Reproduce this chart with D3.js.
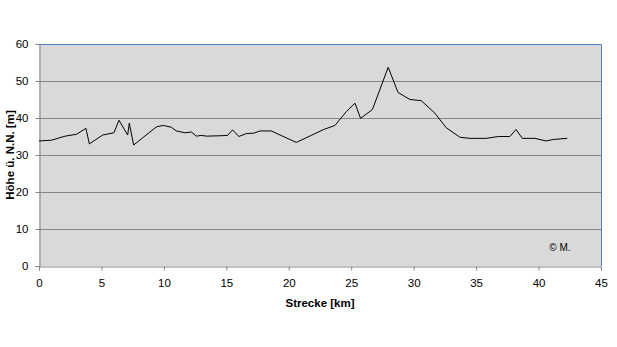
<!DOCTYPE html>
<html>
<head>
<meta charset="utf-8">
<script src="https://cdn.jsdelivr.net/npm/d3@7"></script>
<style>
  body { margin: 0; background: #fff; }
  svg text { font-family: "Liberation Sans", Arial, sans-serif; }
</style>
</head>
<body>
<div id="chart"></div>
<script>
// Höhenprofil: Strecke in km, Höhe in m
const strecke = [0, 1.0, 2.1, 3.0, 3.76, 4.03, 5.1, 6.0, 6.4, 7.1, 7.23, 7.58, 9.4, 9.95, 10.6, 11.0, 11.7, 12.2, 12.6, 13.0, 13.4, 14.5, 15.1, 15.5, 16.0, 16.6, 17.2, 17.7, 18.6, 20.6, 21.8, 22.8, 23.7, 24.6, 25.3, 25.75, 26.7, 27.96, 28.75, 29.7, 30.6, 31.7, 32.6, 33.7, 34.5, 35.8, 36.8, 37.7, 38.2, 38.7, 39.7, 40.6, 41.2, 42.3];
const hoehe = [33.8, 34.0, 35.1, 35.6, 37.2, 33.0, 35.4, 36.0, 39.4, 35.4, 38.6, 32.7, 37.6, 38.0, 37.5, 36.5, 36.0, 36.2, 35.1, 35.3, 35.1, 35.2, 35.3, 36.8, 35.0, 35.8, 35.9, 36.5, 36.5, 33.4, 35.3, 36.9, 38.0, 41.7, 44.0, 39.9, 42.3, 53.7, 46.9, 45.0, 44.7, 41.3, 37.4, 34.8, 34.5, 34.5, 35.0, 35.0, 36.9, 34.5, 34.5, 33.8, 34.2, 34.5];
const xTicks = [0, 5, 10, 15, 20, 25, 30, 35, 40, 45];
const yTicks = [0, 10, 20, 30, 40, 50, 60];

const width = 617, height = 347;
const margin = { left: 39, right: 16, top: 44, bottom: 81 };

const svg = d3.select("#chart").append("svg")
    .attr("width", width)
    .attr("height", height);

const x = d3.scaleLinear().domain([0, 45]).range([margin.left, width - margin.right]);
const y = d3.scaleLinear().domain([0, 60]).range([height - margin.bottom, margin.top]);

// Plotfläche
svg.append("rect")
    .attr("x", x(0)).attr("y", y(60))
    .attr("width", x(45) - x(0)).attr("height", y(0) - y(60))
    .attr("fill", "#d9d9d9");

// Gitternetzlinien
svg.append("g").selectAll("line")
    .data(yTicks.filter(d => d > 0 && d < 60))
    .enter().append("line")
    .attr("x1", x(0)).attr("x2", x(45))
    .attr("y1", d => Math.round(y(d)) + 0.5).attr("y2", d => Math.round(y(d)) + 0.5)
    .attr("stroke", "#868686").attr("stroke-width", 1);

// Rahmen oben/rechts (blau)
svg.append("path")
    .attr("d", `M${x(0)},${Math.round(y(60)) + 0.5}H${Math.round(x(45)) + 0.5}V${y(0)}`)
    .attr("fill", "none").attr("stroke", "#4f81bd").attr("stroke-width", 1);

// Achsen
const xAxis = svg.append("g")
    .attr("transform", `translate(0,${Math.round(y(0)) + 0.5})`)
    .call(d3.axisBottom(x).tickValues(xTicks).tickSize(4).tickPadding(8));
const yAxis = svg.append("g")
    .attr("transform", `translate(${Math.round(x(0)) + 0.5},0)`)
    .call(d3.axisLeft(y).tickValues(yTicks).tickSize(4).tickPadding(7));

[xAxis, yAxis].forEach(a => {
    a.select(".domain").attr("stroke", "#868686");
    a.selectAll(".tick line").attr("stroke", "#868686");
    a.selectAll(".tick text").attr("font-size", 11.5).attr("fill", "#000")
        .style("font-family", "'Liberation Sans', Arial, sans-serif");
});

// Linie
const line = d3.line()
    .x((d, i) => x(strecke[i]))
    .y(d => y(d));

svg.append("path")
    .datum(hoehe)
    .attr("d", line)
    .attr("fill", "none")
    .attr("stroke", "#000")
    .attr("stroke-width", 1);

// Achsentitel
svg.append("text")
    .attr("x", (x(0) + x(45)) / 2).attr("y", 307)
    .attr("text-anchor", "middle")
    .attr("font-size", 11.5).attr("font-weight", "bold")
    .text("Strecke [km]");

svg.append("text")
    .attr("transform", `translate(14,${(y(0) + y(60)) / 2}) rotate(-90)`)
    .attr("text-anchor", "middle")
    .attr("font-size", 11.5).attr("font-weight", "bold")
    .text("Höhe ü. N.N. [m]");

svg.append("text")
    .attr("x", 560).attr("y", 251)
    .attr("text-anchor", "middle")
    .attr("font-size", 10)
    .text("© M.");
</script>
</body>
</html>
